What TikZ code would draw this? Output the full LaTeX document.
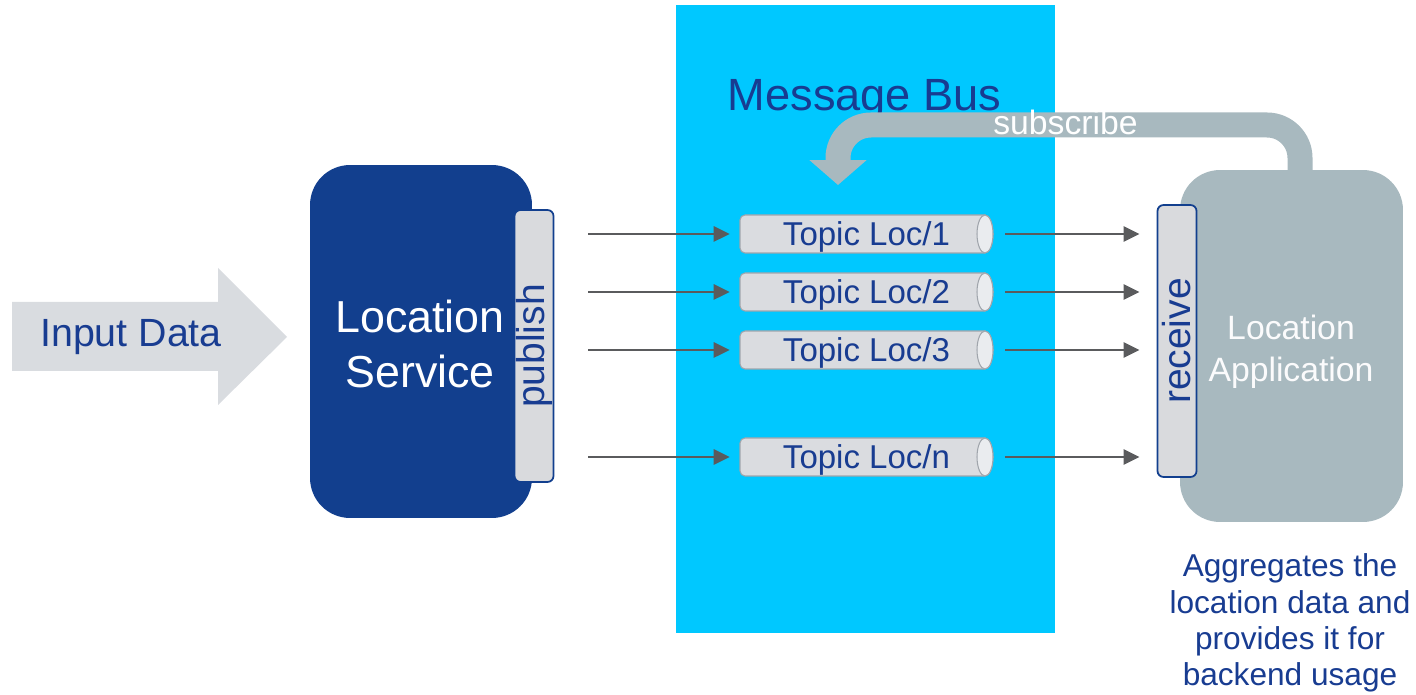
\documentclass[tikz,border=0pt]{standalone}
\usepackage{fontspec}
\setmainfont{Liberation Sans}
\usetikzlibrary{arrows.meta,calc}
\definecolor{busblue}{RGB}{0,200,255}
\definecolor{svcblue}{RGB}{18,63,142}
\definecolor{txtblue}{RGB}{24,60,145}
\definecolor{appgray}{RGB}{168,185,191}
\definecolor{tabgray}{RGB}{217,218,221}
\definecolor{topicgray}{RGB}{218,220,224}
\definecolor{topicend}{RGB}{234,236,239}
\definecolor{topicline}{RGB}{160,165,172}
\definecolor{inputgray}{RGB}{217,220,224}
\definecolor{flowgray}{RGB}{90,91,93}
\begin{document}
\begin{tikzpicture}[x=0.02cm,y=-0.02cm,
  busrect/.style={fill=busblue, minimum width=7.58cm, minimum height=12.56cm, inner sep=0pt},
  svcbox/.style={fill=svcblue, rounded corners=0.8cm, minimum width=4.44cm, minimum height=7.06cm, inner sep=0pt},
  appbox/.style={fill=appgray, rounded corners=0.8cm, minimum width=4.46cm, minimum height=7.04cm, inner sep=0pt},
  tabbox/.style={fill=tabgray, draw=svcblue, line width=1pt, rounded corners=0.12cm, minimum width=0.78cm, minimum height=5.44cm, inner sep=0pt},
  tablabel/.style={text=txtblue, font=\fontsize{22.2}{26}\selectfont, inner sep=0pt, rotate=90},
  topic/.style={minimum width=5.06cm, minimum height=0.76cm, inner sep=0pt, text=txtblue, font=\fontsize{18.8}{22}\selectfont, text height=13.2pt, text depth=0pt},
  topicshape/.style={fill=topicgray, draw=topicline, line width=0.6pt},
  topiccap/.style={fill=topicend, draw=topicline, line width=0.6pt},
  flow/.style={draw=flowgray, line width=1.6pt, -{Triangle[length=0.32cm,width=0.3cm]}},
  band/.style={draw=appgray, line width=0.5cm, rounded corners=0.66cm, -{Triangle[length=0.5cm,width=1.12cm]}},
  bigtext/.style={inner sep=0pt, align=center}
]
\useasboundingbox (0,0) rectangle (1416,695);

% message bus
\node[busrect] (bus) at (865.5,319) {};
\node[bigtext, anchor=base, text=txtblue, font=\fontsize{25.7}{30}\selectfont] (bustitle) at (864.5,111) {Message Bus};

% input arrow
\fill[inputgray] (12,302) -- (218,302) -- (218,268) -- (287,337) -- (218,405) -- (218,371) -- (12,371) -- cycle;
\node[bigtext, anchor=base, text=txtblue, font=\fontsize{22.4}{26}\selectfont] (input) at (131,347) {Input Data};

% location service
\node[svcbox] (svc) at (421,341.5) {};
\node[bigtext, text=white, font=\fontsize{25.5}{31.5}\selectfont] (svctext) at (420,344) {Location\\Service};
\node[tabbox] (pub) at (534,346) {};
\node[tablabel] (publab) at (pub) {publish};

% location application
\node[appbox] (app) at (1291.5,346) {};
\node[bigtext, text=white!95!appgray, font=\fontsize{19.2}{23.8}\selectfont] (apptext) at (1291,352) {Location\\Application};
\node[tabbox] (rec) at (1177,341) {};
\node[tablabel] (reclab) at (rec) {receive};

% subscribe band
\coordinate (subsrc) at (1300,172);
\coordinate (subdst) at (838,185);
\draw[band] (subsrc) -- (1300,125) -- (838,125) -- (subdst);
\node[inner sep=0pt, anchor=base, text=white, font=\fontsize{19.2}{23}\selectfont] (sublab) at (1065.5,135) {subscribe};

% topics
\foreach \nm/\yy/\lab in {t1/234/1, t2/292/2, t3/350/3, tn/457/n} {
  \filldraw[topicshape] (985,\yy-19) [rounded corners=0.1cm] -- (740,\yy-19) -- (740,\yy+19) [sharp corners] -- (985,\yy+19)
     arc[start angle=-90, end angle=90, x radius=0.16cm, y radius=0.38cm] -- cycle;
  \filldraw[topiccap] (985,\yy) ellipse [x radius=0.16cm, y radius=0.38cm];
  \node[topic] (\nm) at (866.5,\yy) {Topic Loc/\lab};
  \draw[flow, shorten <=0.68cm, shorten >=0.2cm] (pub.east |- \nm.west) -- (\nm.west);
  \draw[flow, shorten <=0.24cm, shorten >=0.34cm] (\nm.east) -- (rec.west |- \nm.east);
}

% caption
\node[bigtext, text=txtblue, font=\fontsize{18}{20.6}\selectfont] (caption) at (1290,623) {Aggregates the\\location data and\\provides it for\\backend usage};
\end{tikzpicture}
\end{document}
